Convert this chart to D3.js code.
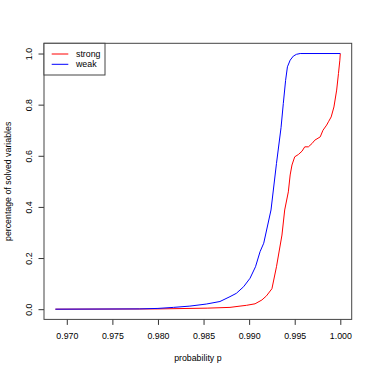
<!DOCTYPE html>
<html>
<head>
<meta charset="utf-8">
<script src="https://cdn.jsdelivr.net/npm/d3@7"></script>
<style>
  html, body { margin: 0; padding: 0; background: #fff; }
  svg text { font-family: "Liberation Sans", Arial, sans-serif; fill: #000; }
</style>
</head>
<body>
<div id="chart"></div>
<script>
// probability p and share of solved variables
const weakP = [0.96875, 0.978, 0.980, 0.9817, 0.9835, 0.9853, 0.9868, 0.9879, 0.9886, 0.9894, 0.9901, 0.9907,
    0.9912, 0.9916, 0.9924, 0.9930, 0.9935, 0.99375, 0.9940, 0.9942, 0.9945, 0.99485, 0.9952, 0.9956, 1.0];
const weakV = [0, 0.001, 0.003, 0.007, 0.012, 0.02, 0.03, 0.049, 0.062, 0.088, 0.121, 0.166,
    0.225, 0.258, 0.388, 0.57, 0.71, 0.805, 0.895, 0.948, 0.974, 0.99, 0.997, 1.0, 1.0];

const strongP = [0.96875, 0.980, 0.9854, 0.9879, 0.9890, 0.9897, 0.99065, 0.9914, 0.9919, 0.9925, 0.9930, 0.9936,
    0.9939, 0.9943, 0.9945, 0.9947, 0.9950, 0.9954, 0.9958, 0.9961, 0.9965, 0.9969, 0.9972, 0.9978,
    0.9981, 0.9985, 0.9987, 0.9990, 0.9993, 0.9996, 0.9998, 0.99995, 1.0];
const strongV = [0, 0.001, 0.004, 0.007, 0.012, 0.015, 0.021, 0.036, 0.052, 0.08, 0.166, 0.29,
    0.388, 0.459, 0.525, 0.564, 0.596, 0.605, 0.618, 0.635, 0.635, 0.648, 0.661, 0.674,
    0.70, 0.72, 0.733, 0.752, 0.791, 0.857, 0.922, 0.974, 1.0];

const xTicks = [0.970, 0.975, 0.980, 0.985, 0.990, 0.995, 1.000];
const yTicks = [0, 0.2, 0.4, 0.6, 0.8, 1.0];
const seriesNames = ['strong', 'weak'];
const seriesColors = ['red', 'blue'];

const width = 374, height = 374;
const box = { left: 44, top: 43.3, right: 351.7, bottom: 319.4 };
const fs = 8.8;

const svg = d3.select('#chart').append('svg')
    .attr('width', width)
    .attr('height', height);

// R style 4% padding on both axes
const xPad = 0.04 * (1 - 0.96875);
const x = d3.scaleLinear().domain([0.96875 - xPad, 1 + xPad]).range([box.left, box.right]);
const y = d3.scaleLinear().domain([-0.04, 1.04]).range([box.bottom, box.top]);

const xAxis = svg.append('g')
    .attr('transform', `translate(0,${box.bottom})`)
    .call(d3.axisBottom(x).tickValues(xTicks).tickFormat(d3.format('.3f')).tickSize(5.5).tickPadding(8));
xAxis.select('.domain').remove();
xAxis.selectAll('line').attr('stroke', '#333');
xAxis.selectAll('text').style('font-size', fs + 'px').attr('font-family', null);

const yAxis = svg.append('g')
    .attr('transform', `translate(${box.left},0)`)
    .call(d3.axisLeft(y).tickValues(yTicks).tickFormat(d3.format('.1f')).tickSize(5.5));
yAxis.select('.domain').remove();
yAxis.selectAll('line').attr('stroke', '#333');
yAxis.selectAll('text')
    .style('font-size', fs + 'px')
    .attr('font-family', null)
    .attr('x', null).attr('dy', null)
    .attr('text-anchor', 'middle')
    .attr('transform', 'translate(-12,0) rotate(-90)');

svg.append('rect')
    .attr('x', box.left).attr('y', box.top)
    .attr('width', box.right - box.left).attr('height', box.bottom - box.top)
    .attr('fill', 'none').attr('stroke', '#444').attr('stroke-width', 1);

const line = d3.line().x(d => x(d[0])).y(d => y(d[1]));
const strongData = strongP.map((p, i) => [p, strongV[i]]);
const weakData = weakP.map((p, i) => [p, weakV[i]]);

svg.append('path').datum(strongData)
    .attr('d', line).attr('fill', 'none').attr('stroke', seriesColors[0]).attr('stroke-width', 1);
svg.append('path').datum(weakData)
    .attr('d', line).attr('fill', 'none').attr('stroke', seriesColors[1]).attr('stroke-width', 1);

// axis titles
svg.append('text')
    .attr('x', (box.left + box.right) / 2).attr('y', 360.5)
    .attr('text-anchor', 'middle').style('font-size', fs + 'px')
    .text('probability p');
svg.append('text')
    .attr('transform', `translate(10.8,${(box.top + box.bottom) / 2}) rotate(-90)`)
    .attr('text-anchor', 'middle').style('font-size', fs + 'px')
    .text('percentage of solved variables');

// legend
const legend = svg.append('g').attr('transform', `translate(${box.left},${box.top})`);
legend.append('rect')
    .attr('width', 61).attr('height', 31.7)
    .attr('fill', '#fff').attr('stroke', '#444').attr('stroke-width', 1);
seriesNames.forEach((name, i) => {
    const ly = 10.7 + i * 10.3;
    legend.append('line')
        .attr('x1', 7.7).attr('x2', 24.3).attr('y1', ly).attr('y2', ly)
        .attr('stroke', seriesColors[i]).attr('stroke-width', 1);
    legend.append('text')
        .attr('x', 32).attr('y', ly + 3.1)
        .style('font-size', fs + 'px')
        .text(name);
});
</script>
</body>
</html>
